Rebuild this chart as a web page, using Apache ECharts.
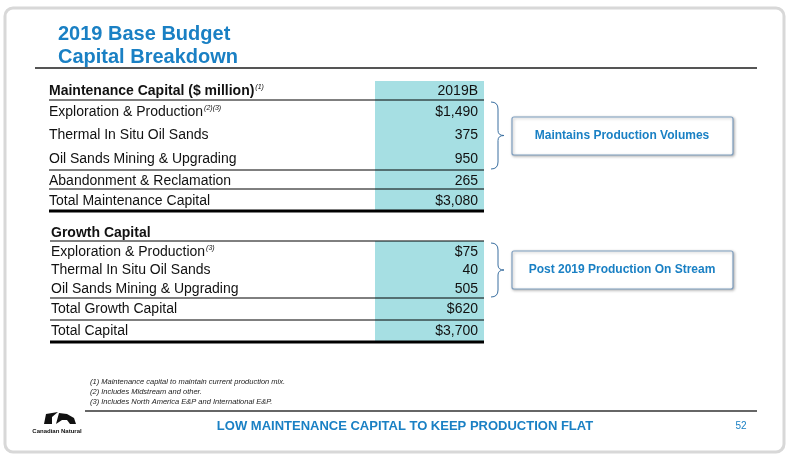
<!DOCTYPE html><html><head><meta charset="utf-8"><script src="https://cdn.jsdelivr.net/npm/echarts@6/dist/echarts.min.js"></script>
<style>html,body{margin:0;padding:0;background:#fff}#c{width:794px;height:458px}</style></head><body><div id="c"></div><script>
const maintLabels=["Exploration & Production","Thermal In Situ Oil Sands","Oil Sands Mining & Upgrading","Abandonment & Reclamation","Total Maintenance Capital"];
const maintSup=["(2)(3)","","","",""];
const maintValues=["$1,490","375","950","265","$3,080"];
const growthLabels=["Exploration & Production","Thermal In Situ Oil Sands","Oil Sands Mining & Upgrading","Total Growth Capital","Total Capital"];
const growthSup=["(3)","","","",""];
const growthValues=["$75","40","505","$620","$3,700"];
const footnotes=["(1) Maintenance capital to maintain current production mix.","(2) Includes Midstream and other.","(3) Includes North America E&P and International E&P."];
const maintY=[112,135,159,181,201], growthY=[252,270,289,309,331];
const blue='#1a80c4', teal='#a6dfe3', F='Liberation Sans, Arial, sans-serif';
const g=[];
const txt=(x,y,s,o={})=>g.push({type:'text',x,y,style:Object.assign({text:s,font:`${o.it?'italic ':''}${o.w||'normal'} ${o.size||14}px ${F}`,fill:o.c||'#111',align:o.a||'left',verticalAlign:'middle'},o.st||{}),z:5});
const sup=(x,y,s,su,w)=>g.push({type:'text',x,y,style:{text:`{a|${s}}{s|${su}}`,align:'left',verticalAlign:'middle',rich:{a:{font:`${w||'normal'} 14px ${F}`,fill:'#111',verticalAlign:'bottom'},s:{font:`italic 7px ${F}`,fill:'#111',verticalAlign:'top',padding:[0,0,6,1]}}},z:5});
const line=(x1,y1,x2,y2,w,c)=>g.push({type:'line',shape:{x1,y1,x2,y2},style:{stroke:c||'#000',lineWidth:w||1},z:4});
g.push({type:'rect',shape:{x:5,y:8,width:779,height:444,r:8},style:{fill:'#fff',stroke:'#d8d8d8',lineWidth:3},z:0});
txt(58,34,'2019 Base Budget',{w:'bold',size:20,c:blue});txt(58,57,'Capital Breakdown',{w:'bold',size:20,c:blue});
line(35,68,757,68,2,'#555');
g.push({type:'rect',shape:{x:375,y:81,width:109,height:129},style:{fill:teal},z:1});
g.push({type:'rect',shape:{x:375,y:241,width:109,height:100},style:{fill:teal},z:1});
sup(49,91,'Maintenance Capital ($ million)','(1)','bold');
txt(478,91,'2019B',{a:'right'});
line(49,100,484,100,1);
maintLabels.forEach((l,i)=>{if(maintSup[i])sup(49,maintY[i],l,maintSup[i]);else txt(49,maintY[i],l);txt(478,maintY[i],maintValues[i],{a:'right'});});
line(49,170,484,170,1);line(49,189,484,189,1);line(49,211,484,211,3);
txt(51,233,'Growth Capital',{w:'bold'});line(50,241,484,241,1);
growthLabels.forEach((l,i)=>{if(growthSup[i])sup(51,growthY[i],l,growthSup[i]);else txt(51,growthY[i],l);txt(478,growthY[i],growthValues[i],{a:'right'});});
line(50,298,484,298,1);line(50,320,484,320,1);line(50,342,484,342,3);
const brace=(y1,y2)=>{const m=(y1+y2)/2,st={stroke:'#3a6fa0',fill:'none',lineWidth:1};
g.push({type:'bezierCurve',shape:{x1:491,y1:y1,cpx1:498,cpy1:y1,x2:498,y2:y1+7},style:st,z:4});
line(498,y1+7,498,m-5,1,'#3a6fa0');
g.push({type:'bezierCurve',shape:{x1:498,y1:m-5,cpx1:498,cpy1:m,x2:504,y2:m},style:st,z:4});
g.push({type:'bezierCurve',shape:{x1:504,y1:m,cpx1:498,cpy1:m,x2:498,y2:m+5},style:st,z:4});
line(498,m+5,498,y2-7,1,'#3a6fa0');
g.push({type:'bezierCurve',shape:{x1:498,y1:y2-7,cpx1:498,cpy1:y2,x2:491,y2:y2},style:st,z:4});};
brace(102,169);brace(243,297);
const box=(y,s)=>{g.push({type:'rect',shape:{x:512,y,width:221,height:38,r:2},style:{fill:'#fff',stroke:'#7f9fc0',lineWidth:1.2,shadowBlur:3,shadowColor:'rgba(0,0,0,0.3)',shadowOffsetX:1,shadowOffsetY:1},z:3});txt(622,y+19,s,{w:'bold',size:12,c:blue,a:'center'});};
box(117,'Maintains Production Volumes');box(251,'Post 2019 Production On Stream');
footnotes.forEach((f,i)=>txt(90,382+i*10,f,{size:7.5,it:true,c:'#222'}));
line(85,411,757,411,2,'#666');
g.push({type:'polygon',shape:{points:[[44,424],[46,414],[58,412],[52,417],[52,424]]},style:{fill:'#111'},z:4});
g.push({type:'polygon',shape:{points:[[56,424],[59,413],[67,414],[74,418],[76,424],[70,424],[67,420],[62,420]]},style:{fill:'#111'},z:4});
txt(57,431,'Canadian Natural',{size:6,w:'bold',a:'center'});
txt(405,426,'LOW MAINTENANCE CAPITAL TO KEEP PRODUCTION FLAT',{w:'bold',size:13,c:blue,a:'center'});
txt(741,426,'52',{size:10,c:blue,a:'center'});
const ch=echarts.init(document.getElementById('c'),null,{renderer:'canvas'});
ch.setOption({animation:false,graphic:{elements:g}});
</script></body></html>
